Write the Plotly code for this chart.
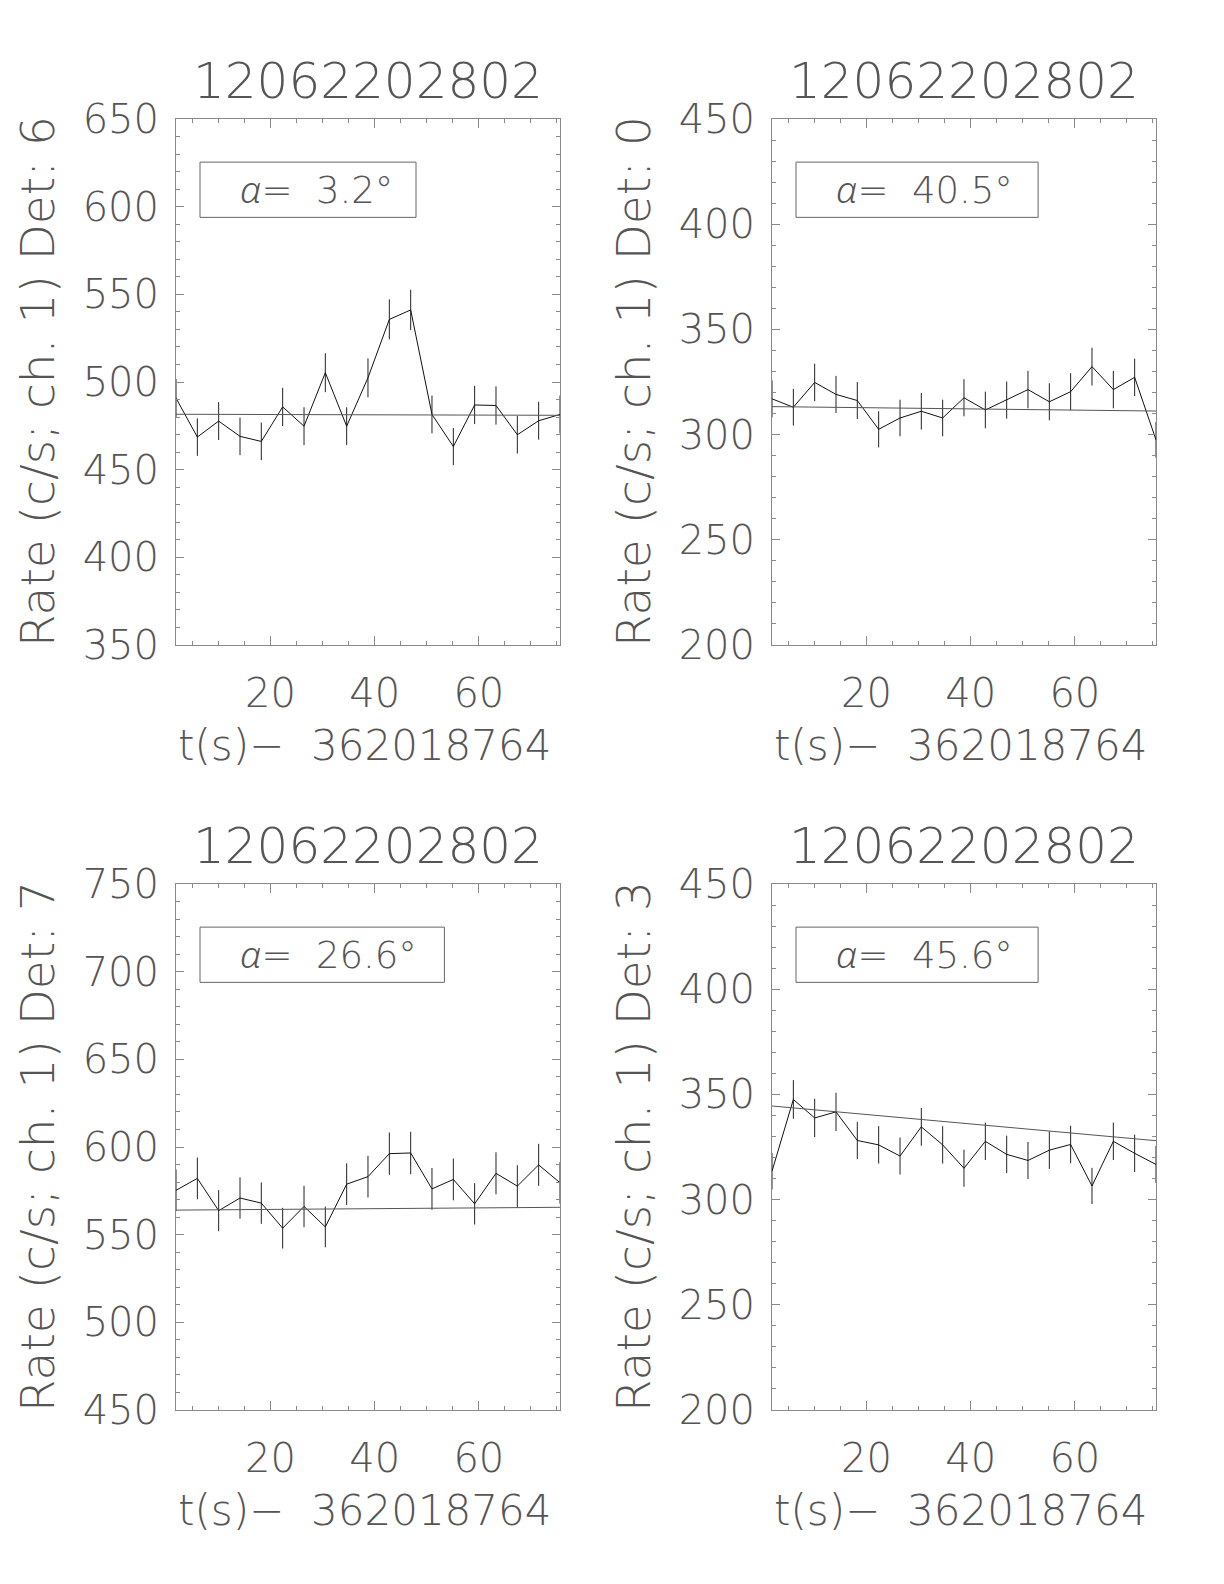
import plotly.graph_objects as go

# ---------------- data ----------------
title_obs = "12062202802"
t0_label = "362018764"

t = [1.85, 5.95, 10.04, 14.14, 18.23, 22.33, 26.43, 30.52, 34.62, 38.71,
     42.81, 46.91, 51.00, 55.10, 59.19, 63.29, 67.39, 71.48, 75.58]

det_ids = [6, 0, 7, 3]
alphas = ["3.2", "40.5", "26.6", "45.6"]

rate_det6 = [490.8, 468.6, 477.7, 469.0, 466.1, 485.8, 474.8, 505.3, 474.8, 502.4,
             535.7, 541.1, 481.5, 463.2, 486.9, 486.6, 469.9, 477.9, 481.5]
err_det6 = [10.9, 10.7, 10.8, 10.7, 10.7, 10.9, 10.8, 11.1, 10.8, 11.1,
            11.4, 11.5, 10.8, 10.6, 10.9, 10.9, 10.7, 10.8, 10.8]
fit_det6 = [481.6, 481.0]

rate_det0 = [317.0, 313.0, 324.8, 319.1, 316.2, 302.5, 307.9, 311.1, 307.9, 317.5,
             311.7, 316.4, 321.4, 315.6, 320.4, 332.3, 321.4, 327.2, 297.5]
err_det0 = [8.8, 8.7, 8.9, 8.8, 8.8, 8.6, 8.7, 8.7, 8.7, 8.8,
            8.7, 8.8, 8.9, 8.8, 8.8, 9.0, 8.9, 8.9, 8.5]
fit_det0 = [313.3, 311.2]

rate_det7 = [575.3, 582.1, 563.7, 570.9, 568.0, 553.7, 566.1, 554.4, 578.8, 583.1,
             596.2, 596.6, 576.1, 581.5, 567.6, 585.0, 577.7, 589.8, 579.6]
err_det7 = [11.9, 11.9, 11.7, 11.8, 11.8, 11.6, 11.8, 11.6, 11.9, 11.9,
            12.1, 12.1, 11.9, 11.9, 11.8, 12.0, 11.9, 12.0, 11.9]
fit_det7 = [564.0, 565.6]

rate_det3 = [313.5, 347.6, 338.8, 341.7, 328.1, 326.0, 320.7, 334.6, 326.0, 314.9,
             327.7, 321.5, 318.6, 323.5, 326.2, 306.5, 327.7, 322.0, 316.7]
err_det3 = [8.7, 9.2, 9.1, 9.1, 8.9, 8.9, 8.8, 9.0, 8.9, 8.8,
            8.9, 8.9, 8.8, 8.9, 8.9, 8.6, 8.9, 8.9, 8.8]
fit_det3 = [344.5, 328.0]

y_ranges = [[350, 650], [200, 450], [450, 750], [200, 450]]

rates = [rate_det6, rate_det0, rate_det7, rate_det3]
errs = [err_det6, err_det0, err_det7, err_det3]
fits = [fit_det6, fit_det0, fit_det7, fit_det3]

# ---------------- layout geometry (page pixels) ----------------
PAGE_OFF = 8                      # default body margin of the html page
W, H = 1224 - PAGE_OFF, 1584 - PAGE_OFF


def fx(px):
    return (px - PAGE_OFF) / W


def fy(py):
    return 1 - (py - PAGE_OFF) / H


panel_px = [(176, 560, 119, 645), (772, 1156, 119, 645),
            (176, 560, 884, 1410), (772, 1156, 884, 1410)]
box_right = [0.625, 0.693, 0.699, 0.693]

FONT = "'DejaVu Sans', 'Noto Sans', sans-serif"
TXT = "#555555"
AX = "#8a8a8a"

fig = go.Figure()
annotations = []
shapes = []

for i in range(4):
    sfx = "" if i == 0 else str(i + 1)
    xa, ya = "x" + sfx, "y" + sfx
    L, R, T, B = panel_px[i]
    # data curve with error bars
    fig.add_trace(go.Scatter(
        x=t, y=rates[i], mode="lines", xaxis=xa, yaxis=ya,
        line=dict(color="#111111", width=1),
        error_y=dict(type="data", array=errs[i], visible=True,
                     color="#222222", thickness=1, width=0),
        showlegend=False, hoverinfo="skip"))
    # fitted background line
    fig.add_trace(go.Scatter(
        x=[t[0], t[-1]], y=fits[i], mode="lines", xaxis=xa, yaxis=ya,
        line=dict(color="#555555", width=1),
        showlegend=False, hoverinfo="skip"))

    axis_common = dict(
        showline=True, linecolor=AX, linewidth=1, mirror="allticks",
        ticks="inside", tickcolor=AX, tickwidth=1, showgrid=False, zeroline=False,
        automargin=False,
        tickfont=dict(family=FONT, size=40, color=TXT, weight=200),
    )
    fig.update_layout(**{
        ("xaxis" + sfx): dict(
            domain=[fx(L), fx(R)], range=[t[0], t[-1]], anchor=ya,
            tickmode="array", tickvals=[20, 40, 60], ticklen=9,
            minor=dict(dtick=5, tick0=0, ticks="inside", ticklen=4, tickcolor=AX, showgrid=False),
            ticklabelstandoff=13, **axis_common),
        ("yaxis" + sfx): dict(
            domain=[fy(B), fy(T)], range=y_ranges[i], anchor=xa,
            dtick=50, tick0=0, ticklen=8,
            minor=dict(dtick=10, tick0=0, ticks="inside", ticklen=4, tickcolor=AX, showgrid=False),
            ticklabelstandoff=8, **axis_common),
    })

    xc = (L + R) / 2
    # panel title
    annotations.append(dict(
        text=title_obs, xref="paper", yref="paper", x=fx(xc), y=fy(T - 38),
        xanchor="center", yanchor="middle", showarrow=False,
        font=dict(family=FONT, size=50, color=TXT, weight=200)))
    # x axis title
    annotations.append(dict(
        text="t(s)\u2212\u00a0\u00a0" + t0_label, xref="paper", yref="paper",
        x=fx(xc - 3), y=fy(B + 100),
        xanchor="center", yanchor="middle", showarrow=False,
        font=dict(family=FONT, size=42, color=TXT, weight=200)))
    # y axis title
    annotations.append(dict(
        text="Rate (c/s; ch. 1) Det: %d" % det_ids[i], xref="paper", yref="paper",
        x=fx(L - 139), y=fy((T + B) / 2),
        xanchor="center", yanchor="middle", textangle=-90, showarrow=False,
        font=dict(family=FONT, size=47, color=TXT, weight=200)))
    # alpha label box
    shapes.append(dict(
        type="rect", xref=xa + " domain", yref=ya + " domain",
        x0=0.0625, x1=box_right[i], y0=0.813, y1=0.918,
        line=dict(color="#666666", width=1), fillcolor="rgba(0,0,0,0)"))
    annotations.append(dict(
        text="<span style='font-family:Noto Sans;font-style:italic;font-weight:300'>\u03b1</span>=\u00a0\u00a0"
             + alphas[i] + "\u00b0",
        xref=xa + " domain", yref=ya + " domain", x=0.162, y=0.868,
        xanchor="left", yanchor="middle", showarrow=False,
        font=dict(family=FONT, size=37, color=TXT, weight=200)))

fig.update_layout(
    width=W, height=H, margin=dict(l=0, r=0, t=0, b=0),
    paper_bgcolor="white", plot_bgcolor="white",
    annotations=annotations, shapes=shapes, showlegend=False,
)

fig.write_html("out.html")
